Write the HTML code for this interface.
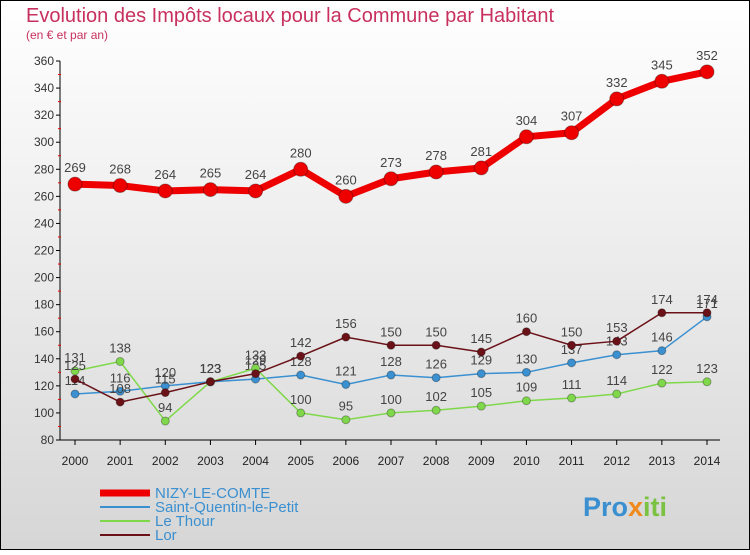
<!DOCTYPE html>
<html><head><meta charset="utf-8"><style>
body{margin:0}
svg text{font-family:"Liberation Sans",sans-serif}
</style></head><body>
<svg id="chart" width="750" height="550" xmlns="http://www.w3.org/2000/svg">
<defs><linearGradient id="bg" x1="0" y1="0" x2="0" y2="1"><stop offset="0" stop-color="#ffffff"/><stop offset="1" stop-color="#d6d6d6"/></linearGradient></defs>
<rect x="0.5" y="0.5" width="749" height="549" fill="url(#bg)" stroke="#000"/>
<text x="26" y="22" font-size="20" fill="#c8305f">Evolution des Impôts locaux pour la Commune par Habitant</text>
<text x="26" y="39" font-size="12" fill="#c8305f">(en € et par an)</text>
<g id="axes"></g>
<g id="series"></g>
<g id="legend"></g>
<text x="583" y="516" font-size="27" font-weight="bold"><tspan fill="#3a8fd0">Pro</tspan><tspan fill="#f08a1c">x</tspan><tspan fill="#7cc242">iti</tspan></text>
</svg>
<script>
const years=[2000,2001,2002,2003,2004,2005,2006,2007,2008,2009,2010,2011,2012,2013,2014];
const nizy=[269,268,264,265,264,280,260,273,278,281,304,307,332,345,352];
const stq=[114,116,120,123,125,128,121,128,126,129,130,137,143,146,171];
const thour=[131,138,94,123,133,100,95,100,102,105,109,111,114,122,123];
const lor=[125,108,115,123,129,142,156,150,150,145,160,150,153,174,174];
const yTicks=[80,100,120,140,160,180,200,220,240,260,280,300,320,340,360];
const NS="http://www.w3.org/2000/svg";
const x=i=>75+i*(632/14);
const y=v=>440-(v-80)*(379/280);
function mk(t,a,p){const e=document.createElementNS(NS,t);for(const k in a)e.setAttribute(k,a[k]);p.appendChild(e);return e;}
const ax=document.getElementById('axes');
const yl=mk('line',{x1:60,y1:y(360),x2:60,y2:440,stroke:'#000'},ax);


const xl=mk('line',{x1:60,y1:440,x2:720,y2:440,stroke:'#000'},ax);


yTicks.forEach(v=>{
 mk('line',{x1:56,y1:y(v),x2:60,y2:y(v),stroke:'#000'},ax);
 if(v<360) mk('line',{x1:58,y1:y(v+10),x2:61,y2:y(v+10),stroke:'#e00'},ax);
 const t=mk('text',{x:54,y:y(v)+4,'font-size':12,'text-anchor':'end',fill:'#333'},ax);
 t.textContent=v;
 
 
});
years.forEach((yr,i)=>{
 mk('line',{x1:x(i),y1:440,x2:x(i),y2:445,stroke:'#000'},ax);
 const t=mk('text',{x:x(i),y:465,'font-size':12,'text-anchor':'middle',fill:'#222'},ax);
 t.textContent=yr;
 
 
});
const sg=document.getElementById('series');
function series(vals,color,w,r,name){
 const g=mk('g',{},sg);
 
 
 mk('polyline',{points:vals.map((v,i)=>x(i)+','+y(v)).join(' '),fill:'none',stroke:color,'stroke-width':w,'stroke-linejoin':'round'},g);
 vals.forEach((v,i)=>{
  const c=mk('circle',{cx:x(i),cy:y(v),r:r,fill:color,stroke:'rgba(0,0,0,0.3)'},g);
  
  
  const t=mk('text',{x:x(i),y:y(v)-(r+5),'font-size':13,'text-anchor':'middle',fill:'#444'},g);
  t.textContent=v;
  
  
 });
}
series(stq,'#3a90d0',1.5,4,'saint-quentin-series');
series(thour,'#7fd84a',1.5,4,'le-thour-series');
series(lor,'#6b1218',1.5,4,'lor-series');
series(nizy,'#ee0000',7,7,'nizy-series');
const lg=document.getElementById('legend');
[['NIZY-LE-COMTE','#ee0000',7],['Saint-Quentin-le-Petit','#3a90d0',2],['Le Thour','#7fd84a',2],['Lor','#6b1218',2]].forEach((e,i)=>{
 const yy=493+i*14;
 const g=mk('g',{},lg);
 
 
 mk('line',{x1:100,y1:yy,x2:150,y2:yy,stroke:e[1],'stroke-width':e[2]},g);
 const t=mk('text',{x:155,y:yy+5,'font-size':15,fill:'#3a8fd0'},g);
 t.textContent=e[0];
});
</script>
</body></html>
